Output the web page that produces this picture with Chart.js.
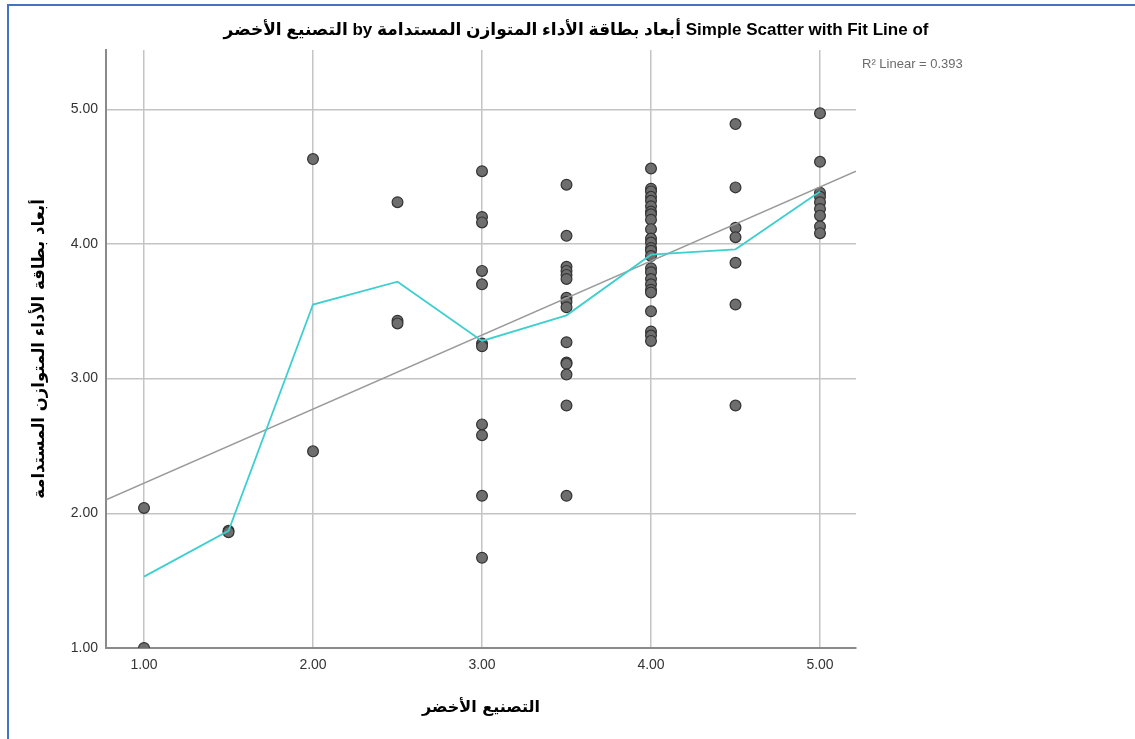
<!DOCTYPE html>
<html>
<head>
<meta charset="utf-8">
<script src="https://cdn.jsdelivr.net/npm/chart.js@4.4.1/dist/chart.umd.min.js"></script>
<style>
  html, body { margin: 0; padding: 0; background: #ffffff; }
  canvas { display: block; }
</style>
</head>
<body>
<canvas id="c" width="1135" height="739"></canvas>
<script>
// ---- Data ----
const titleText = "Simple Scatter with Fit Line of أبعاد بطاقة الأداء المتوازن المستدامة by التصنيع الأخضر";
const xAxisTitle = "التصنيع الأخضر";
const yAxisTitle = "أبعاد بطاقة الأداء المتوازن المستدامة";
const r2Label = "R² Linear = 0.393";

const xGroups = [1, 1.5, 2, 2.5, 3, 3.5, 4, 4.5, 5];
const yAt1_0 = [2.04, 1.00];
const yAt1_5 = [1.87, 1.86];
const yAt2_0 = [4.63, 2.46];
const yAt2_5 = [4.31, 3.43, 3.41];
const yAt3_0 = [4.54, 4.20, 4.16, 3.80, 3.70, 3.26, 3.24, 2.66, 2.58, 2.13, 1.67];
const yAt3_5 = [4.44, 4.06, 3.83, 3.80, 3.77, 3.74, 3.60, 3.57, 3.53, 3.27, 3.12, 3.11, 3.03, 2.80, 2.13];
const yAt4_0 = [4.56, 4.41, 4.39, 4.35, 4.32, 4.28, 4.24, 4.22, 4.18, 4.11, 4.04, 4.01, 3.97, 3.95, 3.91,
                3.82, 3.79, 3.74, 3.70, 3.66, 3.64, 3.50, 3.35, 3.32, 3.28];
const yAt4_5 = [4.89, 4.42, 4.12, 4.05, 3.86, 3.55, 2.80];
const yAt5_0 = [4.97, 4.61, 4.38, 4.35, 4.31, 4.26, 4.21, 4.13, 4.08];

// Subgroup mean line (cyan), one value per x group
const meanLine = [1.53, 1.87, 3.55, 3.72, 3.28, 3.47, 3.92, 3.96, 4.39];

// Linear fit line endpoints (at the plot edges)
const fitX = [0.775, 5.213];
const fitY = [2.10, 4.54];

// Axis ranges / ticks
const xMin = 0.775, xMax = 5.213;
const yMin = 1.0, yMax = 5.44;
const tickStep = 1;

// ---- Build datasets ----
const yGroups = [yAt1_0, yAt1_5, yAt2_0, yAt2_5, yAt3_0, yAt3_5, yAt4_0, yAt4_5, yAt5_0];
const scatterPts = [];
xGroups.forEach((x, i) => yGroups[i].forEach(y => scatterPts.push({x: x, y: y})));
const meanPts = xGroups.map((x, i) => ({x: x, y: meanLine[i]}));
const fitPts = fitX.map((x, i) => ({x: x, y: fitY[i]}));

const decor = {
  id: 'decor',
  afterDraw(chart) {
    const ctx = chart.ctx;
    const area = chart.chartArea;
    ctx.save();
    // blue frame (left and top)
    ctx.fillStyle = '#4472C4';
    ctx.fillRect(7, 4, 2, 739);
    ctx.fillRect(7, 4, 1128, 2);

    // title
    ctx.fillStyle = '#000000';
    ctx.font = "bold 17px 'Liberation Sans', 'DejaVu Sans', sans-serif";
    ctx.textAlign = 'center';
    ctx.textBaseline = 'middle';
    ctx.direction = 'rtl';
    ctx.fillText(titleText, 576, 30);
    ctx.direction = 'ltr';

    // R2 label
    ctx.fillStyle = '#6b6b6b';
    ctx.font = "13px 'Liberation Sans', 'DejaVu Sans', sans-serif";
    ctx.textAlign = 'left';
    ctx.fillText(r2Label, 862, 64);

    // x-axis title
    ctx.fillStyle = '#000000';
    ctx.font = "bold 16px 'DejaVu Sans', sans-serif";
    ctx.textAlign = 'center';
    ctx.fillText(xAxisTitle, (area.left + area.right) / 2, 708);

    // y-axis title
    ctx.translate(40, (area.top + area.bottom) / 2);
    ctx.rotate(-Math.PI / 2);
    ctx.font = "bold 16.5px 'DejaVu Sans', sans-serif";
    ctx.fillText(yAxisTitle, 0, 0);
    ctx.restore();
  }
};

const tickFont = {family: "'Liberation Sans', Arial, sans-serif", size: 14};

new Chart(document.getElementById('c'), {
  type: 'scatter',
  data: {
    datasets: [
      {
        label: 'points',
        data: scatterPts,
        pointRadius: 5.4,
        pointBackgroundColor: '#6e6e6e',
        pointBorderColor: '#333333',
        pointBorderWidth: 1.2,
        showLine: false,
        clip: 0,
        order: 3
      },
      {
        label: 'fit',
        data: fitPts,
        showLine: true,
        borderColor: '#9a9a9a',
        borderWidth: 1.5,
        pointRadius: 0,
        clip: 0,
        order: 2
      },
      {
        label: 'mean',
        data: meanPts,
        showLine: true,
        borderColor: '#3fcfcf',
        borderWidth: 1.8,
        pointRadius: 0,
        tension: 0,
        clip: 0,
        order: 1
      }
    ]
  },
  options: {
    responsive: false,
    animation: false,
    devicePixelRatio: 1,
    layout: { padding: { left: 0, top: 50, right: 279, bottom: 0 } },
    plugins: {
      legend: { display: false },
      tooltip: { enabled: false },
      title: { display: false }
    },
    scales: {
      x: {
        type: 'linear',
        min: xMin, max: xMax,
        afterFit(s) { s.height = 91; },
        ticks: {
          stepSize: tickStep, includeBounds: false,
          callback: v => Number(v).toFixed(2),
          font: tickFont, color: '#333333', padding: 9, maxRotation: 0
        },
        grid: { color: '#c4c4c4', lineWidth: 1.5, drawTicks: false },
        border: { color: '#8a8a8a', width: 2 }
      },
      y: {
        type: 'linear',
        min: yMin, max: yMax,
        afterFit(s) { s.width = 106; },
        ticks: {
          stepSize: tickStep, includeBounds: false,
          callback: v => Number(v).toFixed(2),
          font: tickFont, color: '#333333', padding: 8
        },
        grid: { color: '#c4c4c4', lineWidth: 1.5, drawTicks: false },
        border: { color: '#8a8a8a', width: 2 }
      }
    }
  },
  plugins: [decor]
});
</script>
</body>
</html>
